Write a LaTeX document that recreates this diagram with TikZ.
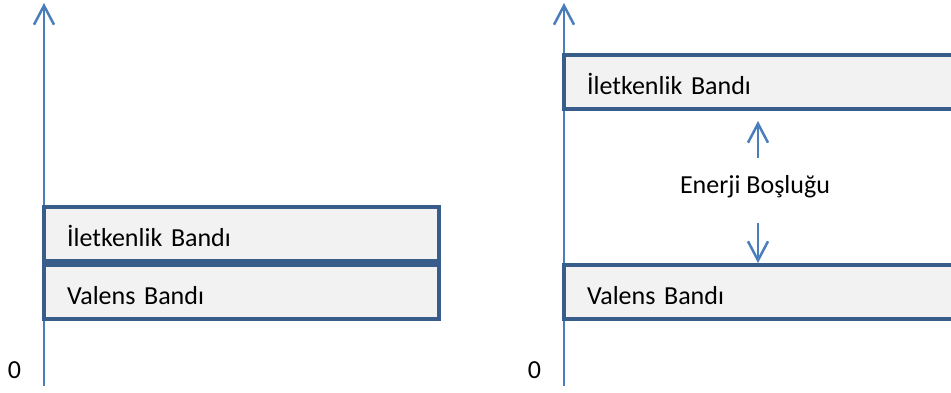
\documentclass[tikz,border=0pt]{standalone}
\usepackage{fontspec}
\setmainfont{Carlito}
\usetikzlibrary{arrows.meta}
\definecolor{axisblue}{HTML}{4A7EBB}
\definecolor{bandedge}{HTML}{385D8A}
\definecolor{bandfill}{HTML}{F2F2F2}
\begin{document}
\begin{tikzpicture}[x=1pt,y=-1pt,
  font=\fontsize{26}{30}\selectfont,
  axisline/.style={draw=axisblue, line width=2.5pt, -{Straight Barb[length=19pt,width=20pt]}},
  band/.style={draw=bandedge, fill=bandfill, line width=4pt, anchor=north west,
    minimum height=54pt, inner xsep=23pt, inner ysep=0pt, align=left,
    text height=25pt, text depth=0pt},
  leftband/.style={band, text width=349pt},
  rightband/.style={band, text width=420pt},
  label/.style={inner sep=0pt}]
  \clip (0,0) rectangle (951,392);

  % energy axes
  \coordinate (L0) at (44,386);
  \coordinate (Ltop) at (44,3);
  \coordinate (R0) at (564,386);
  \coordinate (Rtop) at (564,3);
  \draw[axisline] (L0) -- (Ltop);
  \draw[axisline] (R0) -- (Rtop);
  \node[label] (z1) at (14.5,370) {0};
  \node[label] (z2) at (534.5,370) {0};

  % overlapping bands (conductor)
  \node[leftband] (cbL) at (42,205) {İletkenlik Bandı};
  \node[leftband] (vbL) at (42,263) {Valens Bandı};

  % separated bands with a gap
  \node[rightband] (cbR) at (562,53) {İletkenlik Bandı};
  \node[rightband] (vbR) at (562,263) {Valens Bandı};

  \node[label, anchor=base] (gap) at (755,193) {Enerji Boşluğu};
  \coordinate (gapU) at (758,158);
  \coordinate (gapD) at (758,223);
  \draw[axisline, shorten >=10pt] (gapU) -- (gapU |- cbR.south);
  \draw[axisline] (gapD) -- (gapD |- vbR.north);
\end{tikzpicture}
\end{document}
